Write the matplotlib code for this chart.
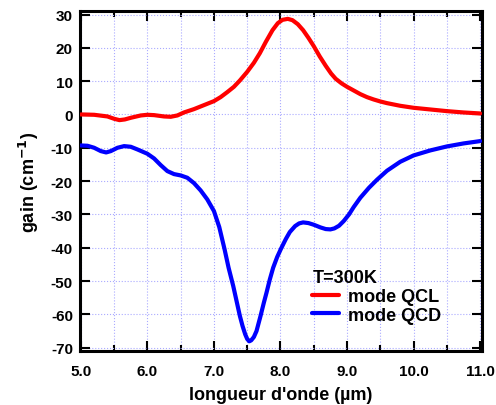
import matplotlib
matplotlib.use("Agg")
import matplotlib.pyplot as plt
from matplotlib.ticker import MultipleLocator, FormatStrFormatter

# curves
x_qcl = [5.0, 5.2, 5.4, 5.5, 5.58, 5.66, 5.75, 5.9, 6.0, 6.1, 6.25, 6.35, 6.45, 6.55, 6.7, 6.85,
         7.0, 7.1, 7.2, 7.3, 7.39, 7.5, 7.6, 7.69, 7.78, 7.88, 7.96, 8.03, 8.11, 8.18, 8.26,
         8.34, 8.42, 8.5, 8.59, 8.68, 8.76, 8.83, 8.92, 9.0, 9.1, 9.2, 9.3, 9.4, 9.5, 9.6,
         9.8, 10.0, 10.25, 10.5, 10.75, 11.0]
g_qcl = [0.0, -0.1, -0.6, -1.3, -1.7, -1.5, -1.0, -0.3, -0.1, -0.2, -0.6, -0.7, -0.3, 0.6, 1.6, 2.8,
         4.0, 5.2, 6.7, 8.3, 10.2, 12.8, 15.5, 18.4, 21.8, 25.3, 27.4, 28.4, 28.7, 28.3, 27.1,
         25.3, 23.0, 20.5, 17.4, 14.6, 12.3, 10.7, 9.3, 8.3, 7.2, 6.1, 5.2, 4.5, 3.9, 3.4,
         2.6, 2.0, 1.5, 1.0, 0.6, 0.3]

x_qcd = [5.0, 5.1, 5.2, 5.3, 5.38, 5.45, 5.55, 5.65, 5.75, 5.85, 6.0, 6.1, 6.2, 6.3, 6.4,
         6.5, 6.6, 6.7, 6.8, 6.9, 7.0, 7.08, 7.16, 7.22, 7.29, 7.34, 7.39, 7.43, 7.47, 7.5,
         7.53, 7.56, 7.6, 7.64, 7.7, 7.75, 7.79, 7.84, 7.89, 7.95, 8.01, 8.08, 8.14, 8.22,
         8.28, 8.34, 8.42, 8.5, 8.6, 8.68, 8.75, 8.81, 8.88, 8.95, 9.03, 9.1, 9.2, 9.33,
         9.45, 9.6, 9.8, 10.0, 10.25, 10.5, 10.75, 11.0]
g_qcd = [-9.3, -9.4, -10.0, -11.0, -11.4, -11.0, -10.0, -9.5, -9.7, -10.5, -11.8, -13.2, -15.2, -17.0, -17.9,
         -18.3, -19.0, -20.6, -22.8, -25.5, -29.0, -33.8, -40.5, -46.0, -51.5, -56.0, -60.5, -63.5, -66.0, -67.4,
         -68.1, -67.8, -66.8, -65.0, -60.5, -56.5, -53.5, -49.5, -46.0, -42.8, -40.2, -37.4, -35.3, -33.5,
         -32.7, -32.4, -32.6, -33.1, -33.9, -34.4, -34.5, -34.2, -33.4, -32.0, -30.0, -27.8, -25.0, -22.0,
         -19.6, -16.9, -14.2, -12.3, -10.8, -9.6, -8.7, -8.0]

plt.rcParams["font.family"] = ["Liberation Sans", "DejaVu Sans"]
plt.rcParams["font.weight"] = "bold"
plt.rcParams["axes.unicode_minus"] = False

fig = plt.figure(figsize=(4.96, 4.06), dpi=100)
ax = fig.add_axes([0.161, 0.133, 0.811, 0.837])

ax.plot(x_qcl, g_qcl, c="#ff0000", lw=3.0, label="mode QCL", zorder=3,
        solid_joinstyle="round", solid_capstyle="round")
ax.plot(x_qcd, g_qcd, c="#0000ff", lw=3.0, label="mode QCD", zorder=3,
        solid_joinstyle="round", solid_capstyle="round")

ax.set_xlim(4.985, 11.03)
ax.set_ylim(-71.0, 31.0)
ax.xaxis.set_major_locator(MultipleLocator(1.0))
ax.xaxis.set_minor_locator(MultipleLocator(0.5))
ax.xaxis.set_major_formatter(FormatStrFormatter("%.1f"))
ax.yaxis.set_major_locator(MultipleLocator(10))

ax.grid(which="both", axis="x", color="#aaaaff", ls=":", lw=0.8)
ax.grid(which="major", axis="y", color="#aaaaff", ls=":", lw=0.8)

ax.tick_params(which="both", direction="in", top=True, right=True, width=1.5,
               labelsize=11)
ax.tick_params(axis="x", pad=9)
ax.tick_params(axis="y", pad=5)
ax.tick_params(which="major", length=7)
ax.tick_params(which="minor", length=4.3)
for s in ax.spines.values():
    s.set_linewidth(2.2)

ax.set_xlabel("longueur d'onde (µm)", fontsize=13, fontweight="bold", labelpad=6)
ax.set_ylabel("gain (cm$^{\\mathbf{-1}}$)", fontsize=13, fontweight="bold", labelpad=7)

leg = ax.legend(title="T=300K", loc="upper left", bbox_to_anchor=(0.56, 0.262),
                frameon=False, fontsize=13, handlelength=1.45, handletextpad=0.55,
                labelspacing=0.1, borderaxespad=0)
leg.get_title().set_fontweight("bold")
leg.get_title().set_fontsize(13)
leg._legend_box.align = "left"

fig.savefig("out.png", dpi=100)
